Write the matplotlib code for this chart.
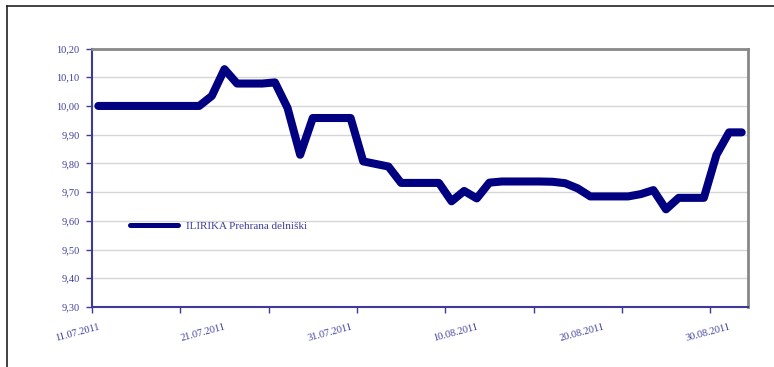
import numpy as np
import pandas as pd
import matplotlib
matplotlib.use("Agg")
import matplotlib.pyplot as plt
import matplotlib.dates as mdates
from matplotlib.lines import Line2D
from matplotlib.ticker import FixedLocator, FuncFormatter

# Daily unit value of the fund, 11.07.2011 - 31.08.2011
dates = pd.date_range("2011-07-11", "2011-08-31", freq="D")
values = [
    10.000, 10.000, 10.000, 10.000, 10.000, 10.000, 10.000, 10.000, 10.000,
    10.035, 10.128, 10.078, 10.078, 10.078, 10.082, 9.993, 9.830,
    9.958, 9.958, 9.958, 9.958, 9.807, 9.798, 9.789,
    9.732, 9.732, 9.732, 9.732, 9.668, 9.704, 9.678,
    9.733, 9.737, 9.737, 9.737, 9.737, 9.736, 9.731, 9.713,
    9.685, 9.685, 9.685, 9.685, 9.693, 9.707, 9.640,
    9.680, 9.680, 9.680, 9.830, 9.908, 9.908,
]
series_name = "ILIRIKA Prehrana delniški"
y_ticks = [9.30, 9.40, 9.50, 9.60, 9.70, 9.80, 9.90, 10.00, 10.10, 10.20]

line_color = "#000080"
text_color = "#3f3f9c"
axis_color = "#3c3c96"

plt.rcParams["font.family"] = ["Liberation Serif", "DejaVu Serif"]

fig = plt.figure(figsize=(7.74, 3.67), dpi=100)
ax = fig.add_axes([92 / 774, 60 / 367, 656 / 774, 258.5 / 367])

x = mdates.date2num(dates)
ax.plot(x, values, color=line_color, lw=5.8,
        solid_capstyle="round", solid_joinstyle="round", zorder=3)

# axis ranges
ax.set_xlim(x[0] - 0.5, x[-1] + 0.5)
ax.set_ylim(y_ticks[0], y_ticks[-1])

# y axis with comma decimals
ax.set_yticks(y_ticks)
ax.yaxis.set_major_formatter(FuncFormatter(lambda v, p: f"{v:.2f}".replace(".", ",")))
ax.grid(axis="y", color="#d6d6d6", lw=1.0, zorder=0)
ax.tick_params(axis="y", direction="out", length=4, width=1, color=axis_color,
               labelcolor=text_color, labelsize=7.5, pad=5)

# x axis: labels every 10 days, tick marks every 7 days
ax.xaxis.set_major_locator(FixedLocator(x[::10]))
ax.xaxis.set_major_formatter(mdates.DateFormatter("%d.%m.%Y"))
ax.xaxis.set_minor_locator(FixedLocator(np.arange(x[0] - 0.5, x[-1] + 1, 7)))
ax.tick_params(axis="x", which="major", length=0, pad=11,
               labelcolor=text_color, labelsize=7.5)
ax.tick_params(axis="x", which="minor", direction="out", length=4, width=1,
               color=axis_color)
for lbl in ax.get_xticklabels():
    lbl.set_rotation(15)
    lbl.set_ha("right")
    lbl.set_va("top")
    lbl.set_rotation_mode("anchor")

for side in ["left", "bottom"]:
    ax.spines[side].set_color(axis_color)
    ax.spines[side].set_linewidth(1.5)
for side in ["top", "right"]:
    ax.spines[side].set_color("#888888")
    ax.spines[side].set_linewidth(2.0)

# legend without frame
handle = Line2D([], [], color=line_color, lw=3.6, solid_capstyle="round")
fig.legend(handles=[handle], labels=[series_name], loc="center left",
           bbox_to_anchor=(130 / 774, 1 - 226 / 367), frameon=False,
           handlelength=4.3, handletextpad=0.7, borderpad=0, borderaxespad=0,
           fontsize=8, labelcolor=text_color)

# outer frame lines (top and left)
fig.add_artist(Line2D([7 / 774, 1], [1 - 6 / 367, 1 - 6 / 367],
                      transform=fig.transFigure, color="#222222", lw=1.2))
fig.add_artist(Line2D([7 / 774, 7 / 774], [0, 1 - 6 / 367],
                      transform=fig.transFigure, color="#222222", lw=1.2))

fig.savefig("out.png", dpi=100)
